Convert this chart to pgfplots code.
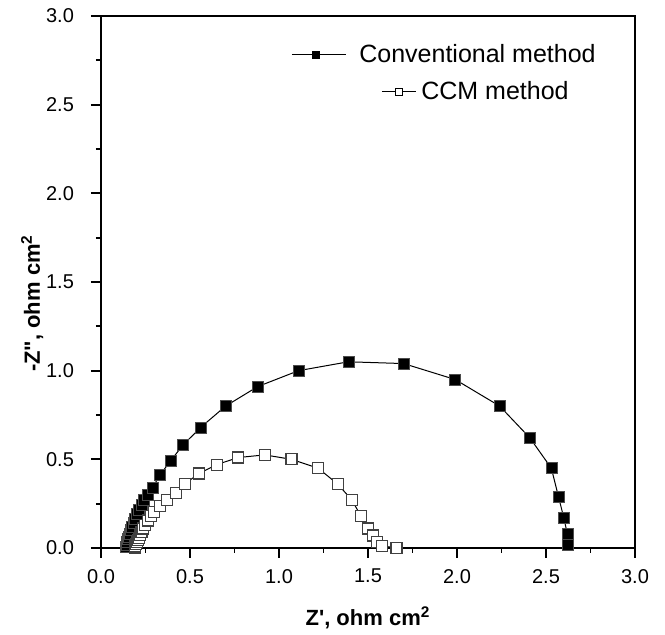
\documentclass[border=0pt]{standalone}
\usepackage{fontspec}
\setmainfont{Liberation Sans}
\usepackage{pgfplots}
\pgfplotsset{compat=1.18}

\begin{document}
\begin{tikzpicture}
    \begin{axis}[name=ax,
        width=267pt, height=266pt, scale only axis,
        xmin=0, xmax=3, ymin=0, ymax=3,
        xtick={0,0.5,...,3}, ytick={0,0.5,...,3},
        minor tick num=1,
        tick pos=left, tick align=outside,
        major tick length=5pt, minor tick length=2.5pt,
        axis line style={line width=1pt},
        every tick/.style={line width=0.9pt, black},
        tick label style={font=\fontsize{10}{12}\selectfont},
        yticklabel style={xshift=-5pt},
        xticklabel style={yshift=-2pt},
        /pgf/number format/assume math mode=true,
        xticklabel style={/pgf/number format/.cd, fixed, fixed zerofill, precision=1},
        yticklabel style={/pgf/number format/.cd, fixed, fixed zerofill, precision=1},
        xlabel={\textbf{Z\textquotesingle, ohm cm\textsuperscript{2}}},
        ylabel={\textbf{-Z\textquotedbl, ohm cm\textsuperscript{2}}},
        label style={font=\fontsize{11}{13}\selectfont},
        xlabel style={at={(axis description cs:0.5,-0.132)}, anchor=center},
        ylabel style={at={(axis description cs:-0.129,0.46)}, anchor=center},
        clip=false,
        legend style={at={(0.337,0.962)}, anchor=north west, draw=none, fill=none,
            font=\fontsize{12.5}{14}\selectfont, row sep=4pt,
            cells={anchor=west}},
        legend image code/.code={},
      ]
    \addplot[black, line width=0.5pt, mark=square*, mark size=2.75pt,
        mark options={solid, fill=black, draw=black!70, line width=0.3pt}]
        coordinates {
        (0.140,0.005) (0.143,0.02) (0.147,0.035) (0.151,0.05) (0.156,0.065)
        (0.161,0.08) (0.167,0.10) (0.174,0.12) (0.182,0.14) (0.191,0.165)
        (0.201,0.19) (0.213,0.215) (0.227,0.245) (0.243,0.27) (0.262,0.30)
        (0.29,0.34) (0.33,0.41) (0.39,0.49) (0.46,0.58) (0.56,0.68)
        (0.70,0.80) (0.88,0.91) (1.11,1.00) (1.39,1.05) (1.70,1.04)
        (1.99,0.95) (2.24,0.80) (2.41,0.62) (2.53,0.45) (2.57,0.29)
        (2.60,0.17) (2.62,0.08) (2.62,0.02)
        };
    \addlegendentry{\tikz[baseline=-0.6ex]{\draw[line width=0.5pt] (0,0)--(10pt,0) (14pt,0)--(27pt,0); \fill[black] (12pt,0) +(-2pt,-2pt) rectangle +(2pt,2pt);}\hspace{6.5pt}Conventional method}
    \addplot[black, line width=0.5pt, mark=square*, mark size=2.75pt,
        mark options={solid, fill=white, draw=black!75, line width=0.6pt}]
        coordinates {
        (0.190,0.003) (0.193,0.012) (0.197,0.022) (0.201,0.033) (0.206,0.045)
        (0.212,0.058) (0.219,0.073) (0.227,0.09) (0.237,0.11) (0.249,0.13)
        (0.263,0.155) (0.28,0.18) (0.30,0.205) (0.33,0.235) (0.37,0.27)
        (0.42,0.31) (0.47,0.36) (0.55,0.42) (0.65,0.47) (0.77,0.51)
        (0.92,0.525) (1.07,0.50) (1.22,0.45) (1.33,0.36) (1.41,0.27)
        (1.46,0.18) (1.50,0.11) (1.53,0.07) (1.55,0.035) (1.58,0.012)
        (1.66,0.0)
        };
    \addlegendentry{\hspace{45pt}\tikz[baseline=-0.6ex]{\draw[line width=0.5pt] (0,0)--(6.5pt,0) (10.5pt,0)--(17pt,0); \draw[line width=0.4pt] (8.5pt,0) +(-1.75pt,-1.75pt) rectangle +(1.75pt,1.75pt);}\hspace{2.5pt}CCM method}
    \end{axis}
    \pgfresetboundingbox
    \path[use as bounding box] ([shift={(-50.5pt,-43.5pt)}]ax.south west) rectangle ([shift={(15pt,8pt)}]ax.north east);
\end{tikzpicture}
\end{document}
